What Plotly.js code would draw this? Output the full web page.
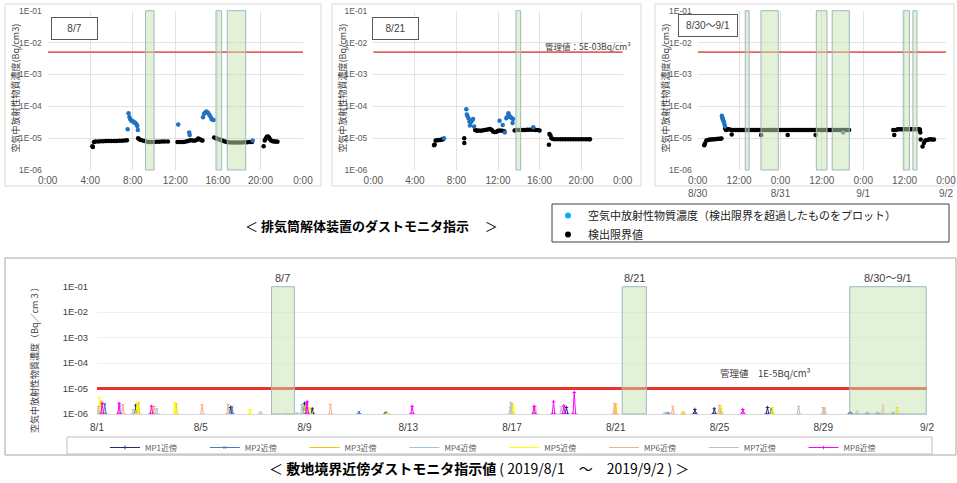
<!DOCTYPE html>
<html><head><meta charset="utf-8">
<script src="https://cdn.plot.ly/plotly-3.0.1.min.js"></script>
<style>html,body{margin:0;padding:0;background:#fff}#chart{width:957px;height:483px}</style>
</head><body><div id="chart"></div>
<script>
// ---------- top panels (hours of day) ----------
const p1BlackH = [4.2,4.25,4.35,4.5,4.75,5.0,5.25,5.5,5.75,6.0,6.25,6.5,6.75,7.0,7.25,7.45,
  8.5,8.6,8.75,9.0,9.25,9.5,9.75,10.0,10.25,10.5,10.75,11.0,11.3,
  12.2,12.4,12.6,12.8,13.0,13.2,13.4,13.6,13.8,14.0,14.15,14.3,14.45,14.55,
  15.65,15.8,15.95,16.1,16.25,16.4,16.6,16.8,17.0,17.25,17.5,17.75,18.0,18.25,18.5,18.75,19.0,19.2,
  20.3,20.4,20.5,20.6,20.7,20.8,20.9,21.0,21.15,21.3,21.45,21.6];
const p1BlackV = [5.6e-6,5.3e-6,7.5e-6,7.8e-6,7.9e-6,8.0e-6,8.0e-6,8.1e-6,8.1e-6,8.1e-6,8.2e-6,8.2e-6,8.3e-6,8.3e-6,8.4e-6,8.6e-6,
  1.0e-5,9.2e-6,8.7e-6,8.3e-6,7.8e-6,7.6e-6,7.6e-6,7.6e-6,7.7e-6,7.7e-6,7.8e-6,7.8e-6,7.8e-6,
  7.6e-6,7.5e-6,7.6e-6,7.6e-6,7.8e-6,8.2e-6,8.6e-6,8.4e-6,8.3e-6,8.8e-6,9.8e-6,9.2e-6,8.6e-6,8.4e-6,
  1.05e-5,1.0e-5,9.6e-6,9.2e-6,8.8e-6,8.4e-6,8.0e-6,7.6e-6,7.4e-6,7.3e-6,7.3e-6,7.3e-6,7.3e-6,7.3e-6,7.4e-6,7.4e-6,7.5e-6,7.5e-6,
  5.6e-6,8.4e-6,9.8e-6,1.1e-5,1.12e-5,1.05e-5,9.2e-6,8.4e-6,8.0e-6,7.8e-6,7.8e-6,7.7e-6];
const p1BlueH = [7.52,7.6,7.68,7.75,7.85,7.95,8.05,8.15,8.25,8.35,8.42,8.47,
  12.27,13.3,13.35,
  14.6,14.7,14.8,14.9,15.0,15.1,15.2,15.3,15.4,15.5,15.6,
  19.27];
const p1BlueV = [1.9e-5,6.0e-5,4.6e-5,4.0e-5,3.6e-5,3.4e-5,3.3e-5,3.1e-5,3.0e-5,2.7e-5,2.4e-5,1.8e-5,
  2.7e-5,1.5e-5,1.25e-5,
  4.5e-5,5.8e-5,6.3e-5,6.8e-5,6.5e-5,6.0e-5,5.3e-5,4.8e-5,4.0e-5,3.8e-5,3.7e-5,
  8.5e-6];

const p2BlackH = [5.85,5.9,6.0,6.15,6.3,6.45,6.6,6.7,
  8.75,8.76,
  9.8,9.95,10.1,10.3,10.5,10.7,10.9,11.1,11.25,11.4,11.55,11.7,11.85,12.0,12.2,12.4,12.6,
  13.6,13.8,14.0,14.2,14.4,14.6,14.8,15.0,15.2,15.4,15.6,15.8,16.0,
  16.9,16.95,17.05,17.15,17.3,17.5,17.75,18.0,18.25,18.5,18.75,19.0,19.25,19.5,19.75,20.0,20.25,20.5,20.75,20.85];
const p2BlackV = [6.0e-6,6.3e-6,8.4e-6,8.6e-6,8.7e-6,8.8e-6,9.0e-6,9.2e-6,
  1.0e-5,7.0e-6,
  1.8e-5,1.7e-5,1.75e-5,1.7e-5,1.75e-5,1.8e-5,1.85e-5,1.9e-5,1.95e-5,1.8e-5,1.6e-5,1.55e-5,1.6e-5,1.7e-5,1.75e-5,1.7e-5,1.65e-5,
  1.75e-5,1.8e-5,1.8e-5,1.8e-5,1.8e-5,1.8e-5,1.85e-5,1.85e-5,1.85e-5,1.85e-5,1.8e-5,1.8e-5,1.75e-5,
  6.2e-6,1.35e-5,1.2e-5,1.0e-5,9.4e-6,9.3e-6,9.2e-6,9.2e-6,9.2e-6,9.2e-6,9.2e-6,9.2e-6,9.2e-6,9.2e-6,9.2e-6,9.2e-6,9.2e-6,9.2e-6,9.2e-6,9.2e-6];
const p2BlueH = [6.8,
  8.95,9.0,9.05,9.15,9.25,9.3,9.4,9.5,9.6,9.7,
  12.15,12.45,12.65,12.8,12.9,13.0,13.1,13.2,13.3,13.4,13.45,
  15.4];
const p2BlueV = [1.0e-5,
  8.0e-5,5.5e-5,5.0e-5,4.3e-5,3.3e-5,2.5e-5,3.2e-5,3.6e-5,4.0e-5,2.3e-5,
  3.5e-5,2.6e-5,1.5e-5,4.2e-5,4.7e-5,6.0e-5,5.0e-5,4.6e-5,4.3e-5,3.0e-5,4.0e-5,
  2.2e-5];

// panel 3: hours from 8/30 0:00
const p3BlackH = [1.9,2.1,2.5,3.0,3.5,4.0,4.5,5.0,5.5,6.0,6.5,6.9,
  7.95,8.2,8.6,9.0,9.86,18.4,26.1,34.2,
  9.5,10,10.5,11,11.5,12,12.5,13,13.5,14,14.5,15,15.5,16,16.5,17,17.5,18,18.5,19,19.5,20,20.5,21,21.5,22,22.5,23,23.5,24,24.5,25,25.5,26,26.5,
  27,27.5,28,28.5,29,29.5,30,30.5,31,31.5,32,32.5,33,33.5,34,34.5,35,35.5,36,36.5,37,37.5,38,38.5,39,39.5,40,40.5,41,41.5,42,42.5,43,43.5,43.9,
  56.7,57.0,57.5,58.0,58.5,59.0,59.5,60.0,60.5,61.0,61.5,62.0,62.5,63.0,63.5,64.0,64.3,64.45,64.55,64.65,65.2,65.6,66.0,66.5,67.0,67.5,68.0,68.5];
const p3BlackV = [6.0e-6,6.8e-6,8.5e-6,8.8e-6,9.0e-6,9.1e-6,9.2e-6,9.3e-6,9.4e-6,9.5e-6,9.6e-6,9.8e-6,
  2.0e-5,1.8e-5,1.9e-5,1.9e-5,1.3e-5,1.25e-5,1.25e-5,1.25e-5,
  1.85e-5,1.8e-5,1.8e-5,1.8e-5,1.8e-5,1.8e-5,1.8e-5,1.8e-5,1.8e-5,1.8e-5,1.8e-5,1.8e-5,1.8e-5,1.8e-5,1.8e-5,1.8e-5,1.8e-5,1.8e-5,1.8e-5,1.8e-5,
  1.8e-5,1.8e-5,1.8e-5,1.8e-5,1.8e-5,1.8e-5,1.8e-5,1.8e-5,1.8e-5,1.8e-5,1.8e-5,1.8e-5,1.8e-5,1.8e-5,1.8e-5,
  1.8e-5,1.8e-5,1.8e-5,1.8e-5,1.8e-5,1.8e-5,1.8e-5,1.8e-5,1.8e-5,1.8e-5,1.8e-5,1.8e-5,1.8e-5,1.8e-5,1.8e-5,1.8e-5,1.8e-5,1.8e-5,1.8e-5,1.8e-5,
  1.8e-5,1.8e-5,1.8e-5,1.8e-5,1.8e-5,1.8e-5,1.8e-5,1.8e-5,1.8e-5,1.8e-5,1.8e-5,1.8e-5,1.8e-5,1.8e-5,1.8e-5,1.8e-5,
  1.25e-5,1.8e-5,1.9e-5,1.9e-5,1.9e-5,1.9e-5,1.9e-5,1.9e-5,1.9e-5,1.9e-5,1.9e-5,1.9e-5,1.9e-5,1.9e-5,1.9e-5,1.9e-5,1.8e-5,1.5e-5,9.0e-6,5.5e-6,7.0e-6,8.5e-6,8.8e-6,9.0e-6,9.2e-6,9.0e-6,9.0e-6,9.0e-6];
const p3BlueH = [7.0,7.1,7.2,7.3,7.45,7.6,7.75,7.9,42.2];
const p3BlueV = [5.0e-5,4.6e-5,4.2e-5,3.8e-5,3.5e-5,3.2e-5,2.8e-5,2.3e-5,1.5e-5];

// work periods (hours)
const p1Work = [[9.2,10.0],[15.82,16.35],[16.88,18.61]];
const p2Work = [[13.73,14.18]];
const p3Work = [[13.8,14.9],[18.35,23.37],[34.4,37.5],[39.0,43.96],[59.6,61.4],[62.4,63.6]];
const limitTop = 5e-3;

const hourTicks = [0,4,8,12,16,20,24];
const hourLabels = ['0:00','4:00','8:00','12:00','16:00','20:00','0:00'];
const p3Ticks = [0,12,24,36,48,60,72];
const p3Labels = ['0:00<br>8/30','12:00','0:00<br>8/31','12:00','0:00<br>9/1','12:00','0:00<br>9/2'];
const logTicks = [1e-6,1e-5,1e-4,1e-3,1e-2,1e-1];
const logLabels = ['1E-06','1E-05','1E-04','1E-03','1E-02','1E-01'];

// ---------- bottom chart (days since 8/1) ----------
const dayTicks = [0,4,8,12,16,20,24,28,32];
const dayLabels = ['8/1','8/5','8/9','8/13','8/17','8/21','8/25','8/29','9/2'];
const mpNames = ['MP1近傍','MP2近傍','MP3近傍','MP4近傍','MP5近傍','MP6近傍','MP7近傍','MP8近傍'];
const mp1Day = [1.5,5.15,8.0,8.3,11.15,18.1,23.05,23.8,25.85,29.05];
const mp1Val = [2.2e-6,1.8e-6,2.6e-6,1.6e-6,1.1e-6,1.8e-6,1.5e-6,1.6e-6,1.8e-6,1.1e-6];
const mp2Day = [0.3,5.2,8.1,10.1,22.0,24.05,26.0,29.7,30.1,30.7];
const mp2Val = [2.5e-6,1.9e-6,2.6e-6,1.2e-6,1.1e-6,1.5e-6,1.6e-6,1.1e-6,1.1e-6,1.1e-6];
const mp3Day = [0.15,1.6,3.05,8.0,16.0,20.0,22.6,30.85];
const mp3Val = [3.2e-6,2.7e-6,2.5e-6,2.0e-6,2.5e-6,2.4e-6,1.2e-6,1.8e-6];
const mp4Day = [0.9,2.3,7.9,15.95,21.9,29.3];
const mp4Val = [2.2e-6,1.6e-6,2.4e-6,1.8e-6,1.1e-6,1.3e-6];
const mp5Day = [0.1,1.55,2.15,3.0,5.9,7.35,8.2,11.2,16.05,24.05,26.05,30.85];
const mp5Val = [4.4e-6,3.0e-6,1.8e-6,2.8e-6,1.5e-6,1.1e-6,1.8e-6,1.1e-6,2.0e-6,2.0e-6,1.8e-6,1.6e-6];
const mp6Day = [1.0,2.2,4.05,5.05,9.0,16.9,19.95,22.2,24.0,28.0,30.3];
const mp6Val = [2.3e-6,2.0e-6,2.3e-6,2.4e-6,2.4e-6,2.0e-6,2.6e-6,2.0e-6,2.2e-6,1.8e-6,2.2e-6];
const mp7Day = [0.05,1.4,6.3,7.7,15.95,17.9,27.05,28.05];
const mp7Val = [2.0e-6,1.5e-6,1.2e-6,1.1e-6,2.9e-6,2.0e-6,2.0e-6,1.7e-6];
const mp8Day = [0.2,0.85,2.1,8.1,12.15,16.85,17.6,18.0,18.4,24.9];
const mp8Val = [2.6e-6,2.6e-6,2.0e-6,3.0e-6,2.0e-6,2.0e-6,3.0e-6,2.1e-6,7.0e-6,1.5e-6];
const mpColors = ['#1f2f7a','#4a7ebb','#ffc000','#9dc3e6','#ffff00','#f4b183','#bfbfbf','#ff00ff'];
const mpSymbols = ['cross-thin','x-thin','line-ew','line-ew','line-ew','line-ew','line-ew','cross-thin'];
const detFloor = 1e-6;
const siteWork = [[6.73,7.61],[20.25,21.18],[29.02,31.97]];
const siteWorkLabels = ['8/7','8/21','8/30～9/1'];
const limitSite = 1e-5;

// ---------- build ----------
const W = 957, H = 483;
const px = v => v / W, py = v => 1 - v / H;
const FONT = 'Liberation Sans, Noto Sans CJK JP, sans-serif';
const NARROW = 'Liberation Sans Narrow, Liberation Sans, sans-serif';
const CJK = 'Noto Sans CJK JP, sans-serif';
const BLUE = '#1f73c2', LEGBLUE = '#00b0f0';

const traces = [];
traces.push({x:[null], y:[null], type:'scatter', mode:'markers', xaxis:'x', yaxis:'y',
  marker:{color:LEGBLUE, size:6}, name:'空気中放射性物質濃度（検出限界を超過したものをプロット）', legend:'legend2', showlegend:true});
traces.push({x:[null], y:[null], type:'scatter', mode:'markers', xaxis:'x', yaxis:'y',
  marker:{color:'#000000', size:6}, name:'検出限界値', legend:'legend2', showlegend:true});
const panels = [
  {bh:p1BlackH,bv:p1BlackV,uh:p1BlueH,uv:p1BlueV,xa:'x',ya:'y',end:24},
  {bh:p2BlackH,bv:p2BlackV,uh:p2BlueH,uv:p2BlueV,xa:'x2',ya:'y2',end:24},
  {bh:p3BlackH,bv:p3BlackV,uh:p3BlueH,uv:p3BlueV,xa:'x3',ya:'y3',end:72}
];
panels.forEach((p,i) => {
  traces.push({x:[0,p.end], y:[limitTop,limitTop], type:'scatter', mode:'lines', xaxis:p.xa, yaxis:p.ya,
    line:{color:'#e8605a', width:1.6}, showlegend:false, hoverinfo:'skip'});
  traces.push({x:p.bh, y:p.bv, type:'scatter', mode:'markers', xaxis:p.xa, yaxis:p.ya,
    marker:{color:'#000000', size:4.5}, showlegend:false});
  traces.push({x:p.uh, y:p.uv, type:'scatter', mode:'markers', xaxis:p.xa, yaxis:p.ya,
    marker:{color:BLUE, size:4.5}, showlegend:false});
});

traces.push({x:[0,32], y:[limitSite,limitSite], type:'scatter', mode:'lines', xaxis:'x4', yaxis:'y4',
  line:{color:'#e8322b', width:3}, showlegend:false, hoverinfo:'skip'});
const mpDays = [mp1Day,mp2Day,mp3Day,mp4Day,mp5Day,mp6Day,mp7Day,mp8Day];
const mpVals = [mp1Val,mp2Val,mp3Val,mp4Val,mp5Val,mp6Val,mp7Val,mp8Val];
mpNames.forEach((n,i) => {
  const xs = [], ys = [];
  mpDays[i].forEach((d,k) => { xs.push(d-0.05,d,d+0.05,null); ys.push(detFloor,mpVals[i][k],detFloor,null); });
  traces.push({x:xs, y:ys, type:'scatter', mode:'lines+markers', xaxis:'x4', yaxis:'y4', name:n,
    line:{color:mpColors[i], width:1}, connectgaps:false,
    marker:{symbol:mpSymbols[i], size:2.5, color:mpColors[i], line:{color:mpColors[i], width:1}},
    legend:'legend', showlegend:true});
});

function topX(dom, ticks, labels, end) {
  return {domain:dom, range:[0,end], tickmode:'array', tickvals:ticks, ticktext:labels,
    showgrid:true, gridcolor:'#e2e2e2', gridwidth:1, zeroline:false, showline:false, ticks:'',
    tickfont:{family:NARROW, size:10, color:'#595959'}, ticklabelstandoff:3, fixedrange:true};
}
function topY(anchor) {
  return {domain:[py(170), py(10.7)], type:'log', range:[-6,-1], tickmode:'array', tickvals:logTicks, ticktext:logLabels,
    showgrid:true, gridcolor:'#e2e2e2', zeroline:false, showline:false, ticks:'', anchor:anchor,
    tickfont:{family:NARROW, size:8.5, color:'#595959'}, ticklabelstandoff:5, fixedrange:true};
}

const layout = {
  width:W, height:H, margin:{l:0,r:0,t:0,b:0}, paper_bgcolor:'#ffffff', plot_bgcolor:'rgba(0,0,0,0)',
  font:{family:FONT, color:'#404040'},
  xaxis: Object.assign(topX([px(47.7),px(303)], hourTicks, hourLabels, 24), {anchor:'y'}),
  yaxis: topY('x'),
  xaxis2: Object.assign(topX([px(373.3),px(622.7)], hourTicks, hourLabels, 24), {anchor:'y2'}),
  yaxis2: topY('x2'),
  xaxis3: Object.assign(topX([px(697.7),px(946)], p3Ticks, p3Labels, 72), {anchor:'y3'}),
  yaxis3: topY('x3'),
  xaxis4: {domain:[px(97),px(927)], range:[0,32], tickmode:'array', tickvals:dayTicks, ticktext:dayLabels, anchor:'y4',
    showgrid:false, zeroline:false, showline:true, linecolor:'#d9d9d9', ticks:'',
    tickfont:{family:FONT, size:10, color:'#404040'}, ticklabelstandoff:4, fixedrange:true},
  yaxis4: {domain:[py(414), py(286.7)], type:'log', range:[-6,-1], tickmode:'array', tickvals:logTicks, ticktext:logLabels, anchor:'x4',
    showgrid:true, gridcolor:'#efefef', zeroline:false, showline:false, ticks:'',
    tickfont:{family:NARROW, size:9.5, color:'#404040'}, ticklabelstandoff:8, fixedrange:true},
  legend: {orientation:'h', x:px(105), xanchor:'left', y:py(433), yanchor:'top', bgcolor:'rgba(0,0,0,0)',
    font:{family:CJK, size:8, color:'#595959'}, entrywidth:54.8, entrywidthmode:'pixels', itemwidth:30, traceorder:'normal'},
  legend2: {orientation:'v', x:px(548), xanchor:'left', y:py(201), yanchor:'top', bgcolor:'rgba(0,0,0,0)',
    font:{family:CJK, size:11, color:'#222222'}, tracegroupgap:0, traceorder:'normal'},
  shapes: [], annotations: []
};

// panel frames
[[5,321,4,186],[332,641,4,186],[655,954,4,186]].forEach(f => layout.shapes.push({type:'rect', xref:'paper', yref:'paper',
  x0:px(f[0]), x1:px(f[1]), y0:py(f[3]), y1:py(f[2]), line:{color:'#d9d9d9', width:1}, fillcolor:'rgba(0,0,0,0)', layer:'below'}));
layout.shapes.push({type:'rect', xref:'paper', yref:'paper', x0:px(5), x1:px(956), y0:py(455), y1:py(258),
  line:{color:'#a6a6a6', width:1}, fillcolor:'rgba(0,0,0,0)', layer:'below'});
layout.shapes.push({type:'rect', xref:'paper', yref:'paper', x0:px(67), x1:px(932), y0:py(454), y1:py(437),
  line:{color:'#bfbfbf', width:1}, fillcolor:'rgba(0,0,0,0)', layer:'below'});
layout.shapes.push({type:'rect', xref:'paper', yref:'paper', x0:px(552), x1:px(949), y0:py(242), y1:py(204),
  line:{color:'#404040', width:1}, fillcolor:'rgba(0,0,0,0)', layer:'below'});

const rectStyle = {fillcolor:'rgba(198,228,176,0.5)', line:{color:'#9fb8bd', width:1}, layer:'above'};
[[p1Work,'x','y'],[p2Work,'x2','y2'],[p3Work,'x3','y3'],[siteWork,'x4','y4']].forEach(([list,xr,yr]) => {
  list.forEach(w => layout.shapes.push(Object.assign({type:'rect', xref:xr, yref:yr+' domain', x0:w[0], x1:w[1], y0:0, y1:1}, rectStyle)));
});

const ctr = {xanchor:'center', yanchor:'middle', showarrow:false, xref:'paper', yref:'paper'};
// panel date boxes
[['8/7',74.5,28.5,43],['8/21',395.5,28.5,43],['8/30～9/1',708,26,56]].forEach(b => layout.annotations.push(Object.assign({}, ctr, {
  text:b[0], x:px(b[1]), y:py(b[2]), width:b[3], height:19,
  bordercolor:'#595959', borderwidth:1, bgcolor:'#ffffff', font:{family:FONT, size:10, color:'#404040'}})));

// y titles
[[15,88.5],[342,88.5],[665,88.5]].forEach(t => layout.annotations.push(Object.assign({}, ctr, {
  text:'空気中放射性物質濃度(Bq/cm3)', x:px(t[0]), y:py(t[1]), textangle:-90,
  font:{family:CJK, size:9, color:'#404040'}})));
layout.annotations.push(Object.assign({}, ctr, {text:'空気中放射性物質濃度（Bq／cm３）', x:px(34), y:py(358),
  textangle:-90, font:{family:CJK, size:9, color:'#404040'}}));

// limit labels
layout.annotations.push(Object.assign({}, ctr, {text:'管理値：5E-03Bq/cm³', x:px(588), y:py(46),
  font:{family:CJK, size:8.5, color:'#404040'}}));
layout.annotations.push(Object.assign({}, ctr, {text:'管理値　1E-5Bq/cm³', x:px(765), y:py(373),
  font:{family:CJK, size:9.5, color:'#404040'}}));

// bottom work labels
siteWork.forEach((w,i) => layout.annotations.push(Object.assign({}, ctr, {text:siteWorkLabels[i], xref:'x4', x:(w[0]+w[1])/2, y:py(278),
  font:{family:FONT, size:11, color:'#404040'}})));

// captions
layout.annotations.push(Object.assign({}, ctr, {text:'＜ <b>排気筒解体装置のダストモニタ指示</b>　 ＞', x:px(371), y:py(226),
  font:{family:CJK, size:13, color:'#000000'}}));
layout.annotations.push(Object.assign({}, ctr, {text:'＜ <b>敷地境界近傍ダストモニタ指示値</b> ( 2019/8/1　～　2019/9/2 ) ＞',
  x:px(479), y:py(468), font:{family:CJK, size:14, color:'#000000'}}));

Plotly.newPlot('chart', traces, layout, {staticPlot:true, displayModeBar:false});
</script></body></html>
